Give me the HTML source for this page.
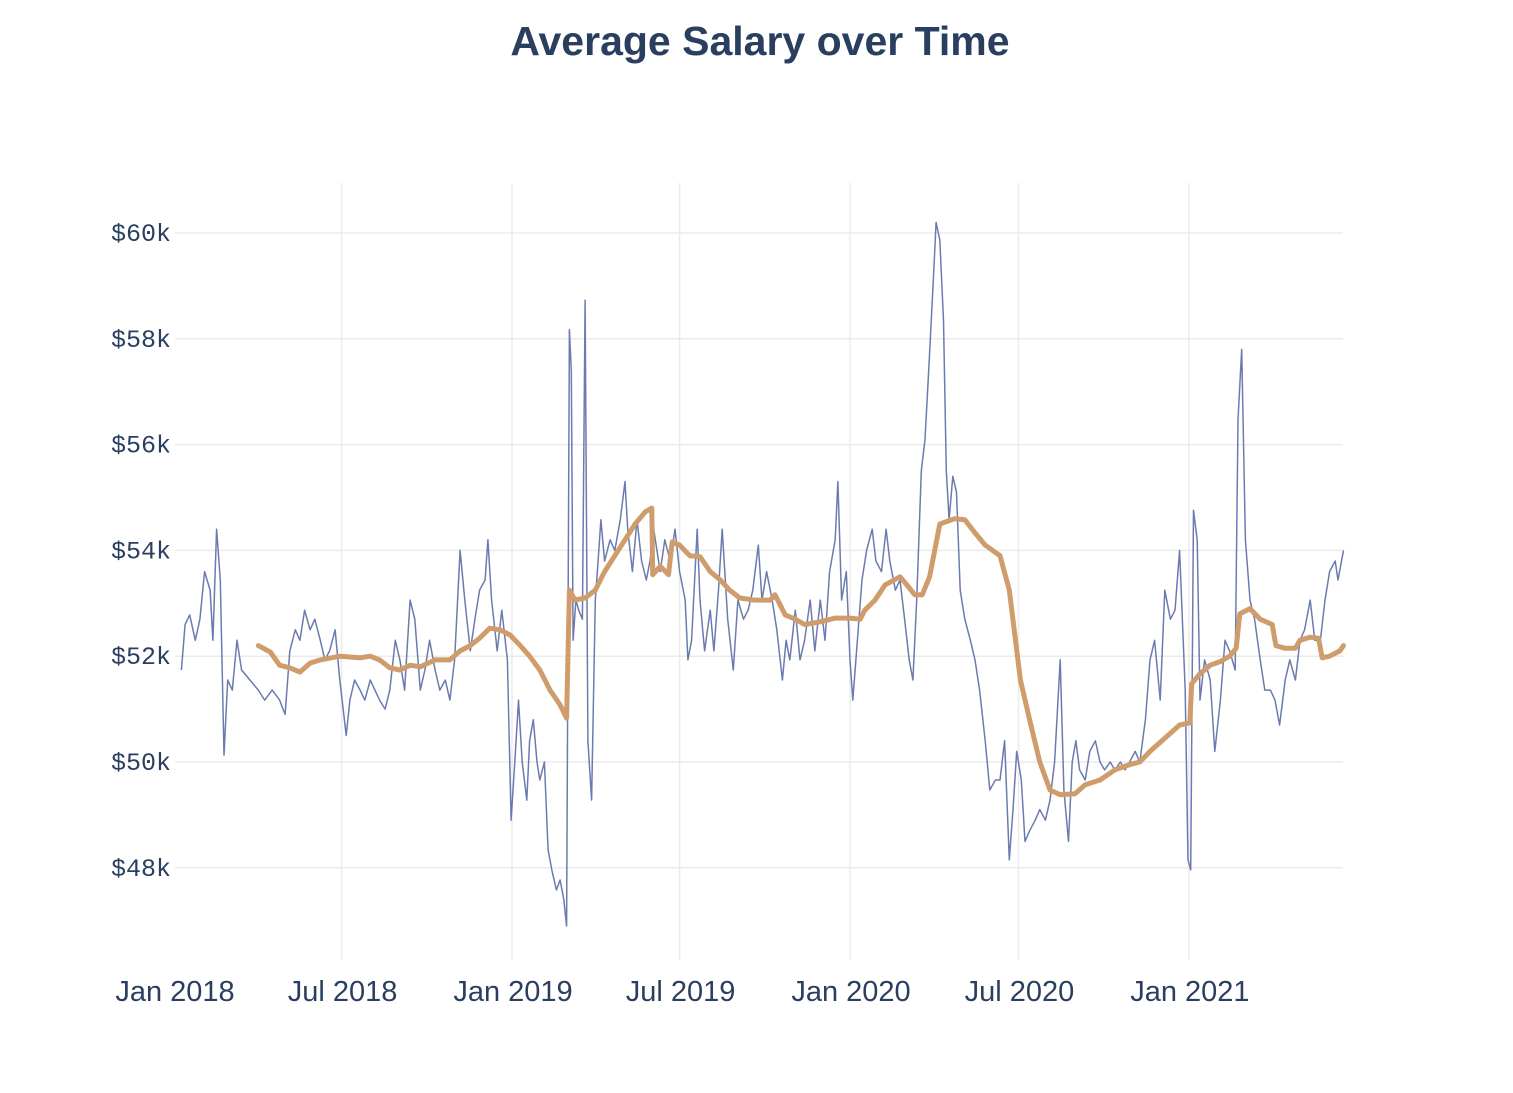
<!DOCTYPE html>
<html><head><meta charset="utf-8"><style>
body{margin:0;background:#fff;}
svg{display:block;}
</style></head><body>
<svg id="chart" width="1513" height="1093" xmlns="http://www.w3.org/2000/svg">
<text x="760" y="55" text-anchor="middle" font-family="Liberation Sans, sans-serif" font-size="41" font-weight="bold" fill="#2a3f5f">Average Salary over Time</text>
<g id="grid"></g>
<g id="ylabels"></g>
<g id="xlabels"></g>
<g id="series"></g>
</svg>
<script>
const blueDays=[8,12,17,23,28,33,39,42,46,50,54,58,63,68,73,82,91,98,106,114,120,125,131,136,141,147,152,158,163,168,174,179,186,190,195,201,206,212,217,222,228,233,239,244,249,255,260,266,271,276,282,287,293,298,303,309,314,320,325,330,336,339,343,349,354,360,364,368,372,376,381,384,388,392,395,400,404,408,413,417,421,424,427,429,431,434,437,441,444,447,451,455,458,461,465,471,476,482,487,490,495,500,505,510,514,518,525,530,536,541,546,552,555,559,565,568,573,579,583,588,592,598,604,609,615,620,625,631,635,640,646,651,657,661,665,671,676,681,687,692,698,703,708,714,717,721,726,730,733,738,743,748,754,758,764,769,773,779,784,789,794,798,802,807,811,815,820,823,827,831,834,837,841,845,849,854,860,865,870,876,881,887,892,897,902,906,910,915,919,924,930,935,941,946,951,957,961,966,970,974,978,984,989,995,1000,1005,1011,1016,1022,1027,1032,1038,1043,1049,1054,1059,1065,1070,1076,1081,1086,1092,1095,1098,1101,1105,1108,1113,1119,1124,1130,1135,1140,1146,1149,1153,1157,1162,1167,1173,1178,1184,1189,1194,1200,1205,1211,1216,1221,1227,1232,1238,1243,1248,1254,1257,1263];
const blueVals=[51.74,52.6,52.78,52.3,52.7,53.6,53.25,52.3,54.4,53.44,50.13,51.55,51.36,52.3,51.74,51.55,51.36,51.17,51.36,51.17,50.9,52.1,52.5,52.3,52.87,52.5,52.7,52.3,51.93,52.1,52.5,51.55,50.5,51.17,51.55,51.36,51.17,51.55,51.36,51.17,51.0,51.36,52.3,51.93,51.36,53.06,52.7,51.36,51.74,52.3,51.74,51.36,51.55,51.17,51.93,54.0,53.06,52.1,52.7,53.25,53.44,54.2,53.06,52.1,52.87,51.93,48.9,50.0,51.17,50.0,49.28,50.4,50.8,50.0,49.66,50.0,48.34,47.96,47.58,47.77,47.4,46.9,58.17,57.4,52.3,53.06,52.87,52.7,58.73,50.4,49.28,53.06,53.8,54.58,53.8,54.2,54.0,54.58,55.3,54.4,53.6,54.58,53.8,53.44,53.8,54.4,53.6,54.2,53.8,54.4,53.6,53.06,51.93,52.3,54.4,53.06,52.1,52.87,52.1,53.25,54.4,52.7,51.74,53.06,52.7,52.87,53.25,54.1,53.06,53.6,53.06,52.5,51.55,52.3,51.93,52.87,51.93,52.3,53.06,52.1,53.06,52.3,53.6,54.2,55.3,53.06,53.6,51.93,51.17,52.3,53.44,54.0,54.4,53.8,53.6,54.4,53.8,53.25,53.44,52.7,51.93,51.55,53.06,55.5,56.1,57.4,59.1,60.2,59.87,58.35,55.5,54.58,55.4,55.1,53.25,52.7,52.3,51.93,51.36,50.4,49.47,49.66,49.66,50.4,48.15,49.1,50.2,49.66,48.5,48.7,48.9,49.1,48.9,49.28,50.0,51.93,49.47,48.5,50.0,50.4,49.85,49.66,50.2,50.4,50.0,49.85,50.0,49.85,50.0,49.85,50.0,50.2,50.0,50.8,51.93,52.3,51.17,53.25,52.7,52.87,54.0,51.36,48.15,47.96,54.76,54.2,51.17,51.93,51.55,50.2,51.17,52.3,52.1,51.74,56.47,57.8,54.2,53.06,52.7,51.93,51.36,51.36,51.17,50.7,51.55,51.93,51.55,52.3,52.5,53.06,52.3,52.3,53.06,53.6,53.8,53.44,54.0];
const avgDays=[91,104,114,125,136,147,158,179,201,212,222,233,244,255,266,282,298,309,320,330,341,352,363,374,384,395,406,417,424,427,433,444,455,465,476,487,498,509,516,517,525,534,538,546,557,568,579,590,600,611,627,644,649,660,671,681,698,714,730,741,746,757,768,784,789,800,808,816,827,843,854,865,876,892,902,914,924,935,946,957,973,984,1000,1016,1032,1043,1054,1070,1086,1097,1099,1108,1119,1130,1140,1147,1151,1162,1173,1186,1190,1200,1211,1216,1227,1236,1240,1248,1259,1263];
const avgVals=[52.2,52.08,51.83,51.78,51.7,51.87,51.93,52.0,51.97,52.0,51.93,51.78,51.74,51.83,51.8,51.93,51.93,52.1,52.2,52.34,52.53,52.5,52.4,52.2,52.0,51.74,51.36,51.08,50.83,53.25,53.06,53.1,53.25,53.6,53.9,54.2,54.5,54.73,54.8,53.54,53.7,53.54,54.16,54.1,53.9,53.88,53.6,53.44,53.25,53.1,53.06,53.06,53.16,52.78,52.7,52.6,52.65,52.72,52.72,52.7,52.87,53.06,53.35,53.5,53.4,53.16,53.16,53.5,54.5,54.6,54.58,54.33,54.1,53.9,53.25,51.55,50.8,50.0,49.47,49.38,49.4,49.57,49.66,49.85,49.95,50.0,50.2,50.45,50.7,50.74,51.48,51.67,51.83,51.9,52.0,52.15,52.8,52.9,52.7,52.6,52.2,52.15,52.15,52.3,52.36,52.34,51.97,52.0,52.1,52.2];
const yTicks=[48,50,52,54,56,58,60];
const xTickDays=[0,181,365,546,730,912,1096];
const xTickLabels=["Jan 2018","Jul 2018","Jan 2019","Jul 2019","Jan 2020","Jul 2020","Jan 2021"];

const NS="http://www.w3.org/2000/svg";
const X0=174,PXD=0.926,Y60=233,PXK=52.9,L=175,R=1343,T=183,B=960;
const xs=d=>X0+d*PXD;
const ys=v=>Y60+(60-v)*PXK;
function mk(tag,attrs,parent){const e=document.createElementNS(NS,tag);for(const k in attrs)e.setAttribute(k,attrs[k]);parent.appendChild(e);return e;}
const grid=document.getElementById('grid'),yl=document.getElementById('ylabels'),xl=document.getElementById('xlabels'),ser=document.getElementById('series');
yTicks.forEach(v=>{
  const g=mk('line',{x1:L,x2:R,y1:ys(v),y2:ys(v),stroke:'#ebebeb','stroke-width':1.5},grid);
  
  
  const t=mk('text',{x:171,y:ys(v)+8,'text-anchor':'end','font-family':'Liberation Mono, monospace','font-size':25,fill:'#2a3f5f'},yl);
  t.textContent='$'+v+'k';
  
  
});
xTickDays.forEach((d,i)=>{
  if(i>0){const g=mk('line',{x1:xs(d),x2:xs(d),y1:T,y2:B,stroke:'#ebebeb','stroke-width':1.5},grid);
  
  }
  const t=mk('text',{x:xs(d)+1,y:1001,'text-anchor':'middle','font-family':'Liberation Sans, sans-serif','font-size':29,fill:'#2a3f5f'},xl);
  t.textContent=xTickLabels[i];
  
  
});
const bp=mk('path',{d:blueDays.map((d,i)=>(i?'L':'M')+xs(d).toFixed(1)+' '+ys(blueVals[i]).toFixed(1)).join(''),fill:'none',stroke:'#6b7bb0','stroke-width':1.5,'stroke-linejoin':'round'},ser);


const ap=mk('path',{d:avgDays.map((d,i)=>(i?'L':'M')+xs(d).toFixed(1)+' '+ys(avgVals[i]).toFixed(1)).join(''),fill:'none',stroke:'#cf9d6c','stroke-width':5,'stroke-linejoin':'round','stroke-linecap':'round'},ser);


</script>
</body></html>
